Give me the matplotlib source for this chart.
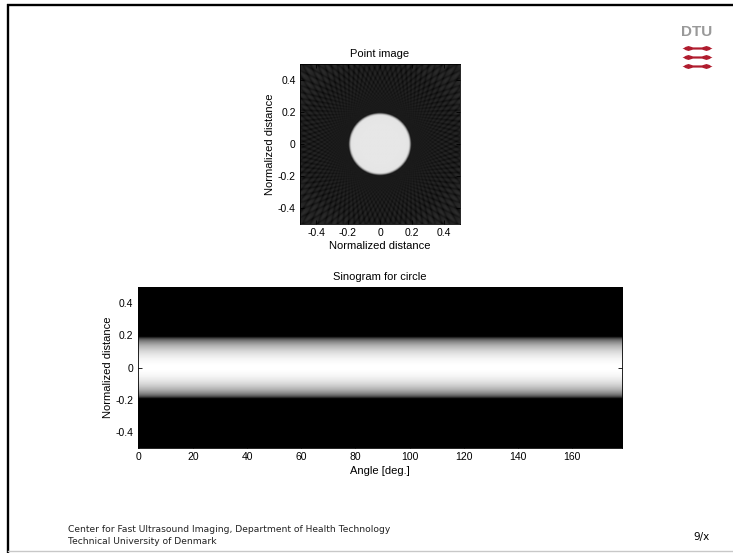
import numpy as np
import matplotlib
matplotlib.use('Agg')
import matplotlib.pyplot as plt

# phantom: one centred disk
circle_radius = 0.19
sino_angles = np.arange(0, 179)          # deg, one projection per degree
recon_angles = np.arange(0, 180, 4)      # deg, used for the point image
det_pos = np.linspace(-0.5, 0.5, 129)    # normalized detector positions
dist_ticks = [-0.4, -0.2, 0, 0.2, 0.4]
dist_ticklabels = ['-0.4', '-0.2', '0', '0.2', '0.4']
angle_ticks = [0, 20, 40, 60, 80, 100, 120, 140, 160]

W, H = 733, 553
LABEL_FONT = ['Liberation Sans', 'DejaVu Sans']


def disk_projection(s, r):
    return 2 * np.sqrt(np.clip(r**2 - s**2, 0, None))


proj = disk_projection(det_pos, circle_radius)
sino = np.tile(proj[:, None], (1, len(sino_angles)))
sino = sino / sino.max()

# filtered backprojection (Ram-Lak) for the point image
nd = len(det_pos)
ds = det_pos[1] - det_pos[0]
n = np.arange(-nd, nd + 1)
h = np.zeros(len(n))
h[n == 0] = 1 / (4 * ds**2)
odd = (n % 2) != 0
h[odd] = -1 / (np.pi**2 * n[odd]**2 * ds**2)
q = np.convolve(proj, h, mode='full')[nd:2 * nd] * ds

xs = np.linspace(-0.5, 0.5, 220)
X, Y = np.meshgrid(xs, xs)
img = np.zeros_like(X)
for th in np.deg2rad(recon_angles):
    img += np.interp(X * np.cos(th) + Y * np.sin(th), det_pos, q, left=0, right=0)
img *= np.pi / len(recon_angles)

fig = plt.figure(figsize=(W / 100, H / 100), dpi=100)


def px_axes(x0, y0, x1, y1):
    return fig.add_axes([x0 / W, (H - y1) / H, (x1 - x0) / W, (y1 - y0) / H])


def style(ax):
    ax.tick_params(direction='in', length=3, width=0.6, pad=3, labelsize=7.5,
                   top=True, right=True)
    for lab in ax.get_xticklabels() + ax.get_yticklabels():
        lab.set_family(LABEL_FONT)
    for sp in ax.spines.values():
        sp.set_linewidth(0.6)


# top: point image
ax1 = px_axes(300, 64, 460, 224)
ax1.imshow(img, cmap='gray', vmin=-0.13, vmax=1.12, origin='lower',
           extent=[-0.5, 0.5, -0.5, 0.5], aspect='auto', interpolation='bilinear')
ax1.set_xticks(dist_ticks)
ax1.set_xticklabels(dist_ticklabels)
ax1.set_yticks(dist_ticks)
ax1.set_yticklabels(dist_ticklabels)
ax1.set_title('Point image', fontsize=8, family=LABEL_FONT, pad=5)
ax1.set_xlabel('Normalized distance', fontsize=8, family=LABEL_FONT, labelpad=2)
ax1.set_ylabel('Normalized distance', fontsize=8, family=LABEL_FONT, labelpad=2)
style(ax1)

# bottom: sinogram
ax2 = px_axes(137.5, 287, 622, 448)
ax2.imshow(sino, cmap='gray', vmin=0, vmax=1, origin='lower',
           extent=[sino_angles[0] - 0.5, sino_angles[-1] + 0.5, det_pos[0], det_pos[-1]],
           aspect='auto', interpolation='bilinear')
ax2.set_xticks(angle_ticks)
ax2.set_yticks(dist_ticks)
ax2.set_yticklabels(dist_ticklabels)
ax2.set_title('Sinogram for circle', fontsize=8, family=LABEL_FONT, pad=5)
ax2.set_xlabel('Angle [deg.]', fontsize=8, family=LABEL_FONT, labelpad=3)
ax2.set_ylabel('Normalized distance', fontsize=8, family=LABEL_FONT, labelpad=2)
style(ax2)

# slide frame, logo and footer in pixel coordinates
ov = fig.add_axes([0, 0, 1, 1])
ov.set_xlim(0, W)
ov.set_ylim(H, 0)
ov.axis('off')
ov.plot([7, W], [5, 5], color='black', lw=1.7, solid_capstyle='butt')
ov.plot([8, 8], [4, H], color='black', lw=1.7, solid_capstyle='butt')
ov.plot([8, W], [551, 551], color='#c8c8c8', lw=1.0)

ov.text(697, 32, 'DTU', ha='center', va='center', fontsize=11, fontweight='bold',
        color='#999999', family=LABEL_FONT)
red = '#b01c2e'
xw = np.linspace(682, 712, 200)
env = np.clip(np.minimum(xw - 682, 712 - xw) / 3, 0, 1)
half = 1.1 * env + 1.4 * np.clip(1 - np.abs(xw - 688) / 4.5, 0, 1) \
    + 1.4 * np.clip(1 - np.abs(xw - 706) / 4.5, 0, 1)
for yc in [48, 57, 66]:
    ov.fill_between(xw, yc - half, yc + half, color=red, lw=0)

ov.text(68, 529, 'Center for Fast Ultrasound Imaging, Department of Health Technology',
        fontsize=6.6, va='center', family='DejaVu Sans', color='#222222')
ov.text(68, 541, 'Technical University of Denmark',
        fontsize=6.6, va='center', family='DejaVu Sans', color='#222222')
ov.text(701, 537, '9/x', fontsize=7.5, ha='center', va='center', family='DejaVu Sans')

fig.savefig('out.png', dpi=100)
